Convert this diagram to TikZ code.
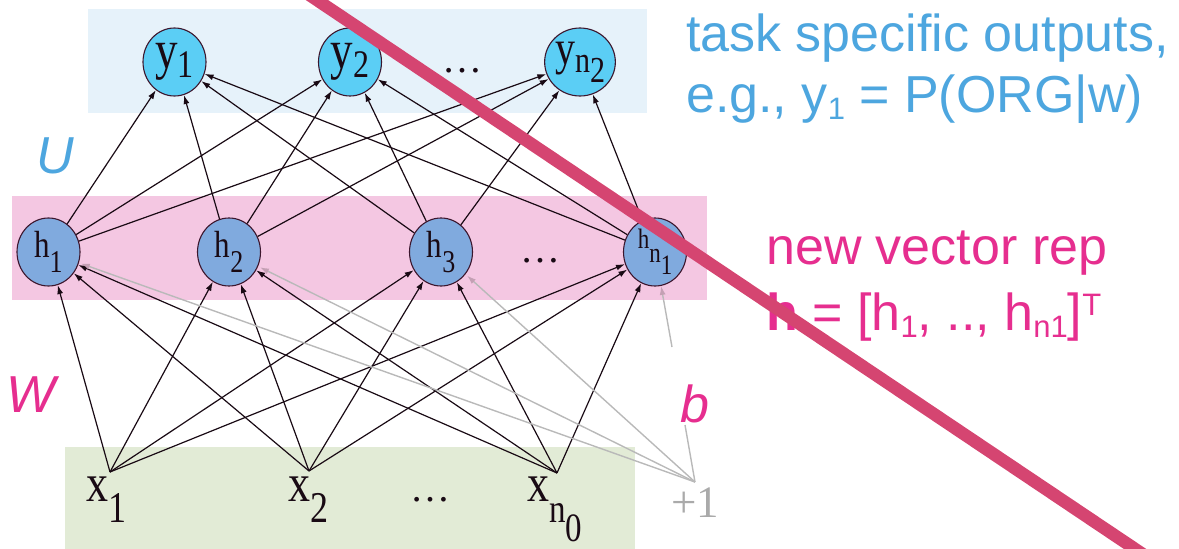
\documentclass[tikz,border=0pt]{standalone}
\usepackage{fontspec}
\setmainfont{Liberation Serif}
\newfontfamily\arialf{Liberation Sans}
\usetikzlibrary{arrows.meta,shapes.geometric}
\definecolor{bluebg}{RGB}{230,242,250}
\definecolor{pinkbg}{RGB}{244,199,226}
\definecolor{greenbg}{RGB}{226,235,214}
\definecolor{ycol}{RGB}{91,206,245}
\definecolor{hcol}{RGB}{128,170,222}
\definecolor{edgecol}{RGB}{60,22,45}
\definecolor{linecol}{RGB}{25,10,20}
\definecolor{biasgray}{RGB}{185,185,185}
\definecolor{biashead}{RGB}{196,160,180}
\definecolor{bluetxt}{RGB}{77,166,223}
\definecolor{magtxt}{RGB}{230,46,143}
\definecolor{redband}{RGB}{213,69,113}
\definecolor{plustxt}{RGB}{170,170,170}
\newcommand\lsub[3]{\raisebox{-#1}{\fontsize{#2}{#2}\selectfont #3}}
\newcommand\usup[3]{\raisebox{#1}{\fontsize{#2}{#2}\selectfont #3}}
\newcommand\tall[2]{\scalebox{1}[1.22]{\fontsize{#1}{#1}\selectfont #2}}
\newcommand\sansbig{\arialf\fontsize{52}{60}\selectfont}
\newcommand\sanssub[1]{\lsub{7pt}{31}{#1}}
\begin{document}
\begin{tikzpicture}[x=1pt,y=-1pt,
  neuron/.style={ellipse, draw=edgecol, line width=1.1pt, minimum width=63pt, minimum height=68pt, inner sep=0pt, text=linecol},
  yneuron/.style={neuron, fill=ycol},
  hneuron/.style={neuron, fill=hcol},
  conn/.style={draw=linecol, line width=1.2pt, -{Latex[length=9pt,width=6pt]}},
  biasline/.style={draw=biasgray, line width=1.4pt},
  bias/.style={biasline, -{Latex[length=9pt,width=6pt,color=biashead]}},
  xlabel/.style={anchor=base west, inner sep=0pt, text=linecol},
  dotlabel/.style={anchor=base, inner sep=0pt, font=\fontsize{40}{40}\selectfont, text=linecol},
  sanslabel/.style={anchor=base west, inner sep=0pt, font=\sansbig},
  band/.style={draw=redband, line width=12.5pt}
]
\useasboundingbox (0,0) rectangle (1179,549);
% background bands
\fill[bluebg] (88,9) rectangle (647,113);
\fill[pinkbg] (12,196) rectangle (707,300);
\fill[greenbg] (65,447) rectangle (635,549);

% neurons
\node[yneuron] (y1) at (174.5,62) {\tall{45}{y\lsub{7pt}{32}{1}}};
\node[yneuron] (y2) at (350,62) {\tall{45}{y\lsub{7pt}{32}{2}}};
\node[yneuron] (yn) at (580,62) {\tall{40}{y\lsub{7pt}{30}{n\lsub{8pt}{30}{2}}}};
\node[dotlabel] (ydots) at (462,72) {…};

\node[hneuron] (h1) at (48.5,252) {\tall{31}{h\lsub{12pt}{26}{1}}};
\node[hneuron] (h2) at (229,252) {\tall{31}{h\lsub{12pt}{26}{2}}};
\node[hneuron] (h3) at (441,252) {\tall{31}{h\lsub{12pt}{26}{3}}};
\node[hneuron] (hn) at (655,252) {\tall{23}{h\lsub{11pt}{23}{n\lsub{10pt}{23}{1}}}};
\node[dotlabel] (hdots) at (540,262) {…};

% inputs
\node[xlabel] (x1) at (86,501) {\tall{44}{x\lsub{18pt}{36}{1}}};
\node[xlabel] (x2) at (288,501) {\tall{44}{x\lsub{18pt}{36}{2}}};
\node[xlabel] (xn) at (527,501) {\tall{44}{x\lsub{18pt}{33}{n\lsub{15pt}{33}{0}}}};
\node[dotlabel] (xdots) at (430,501) {…};
\node[xlabel, text=plustxt] (plus) at (671,517) {\fontsize{45}{45}\selectfont +1};

\coordinate (xa1) at (110,472);
\coordinate (xa2) at (309,471);
\coordinate (xa3) at (557,473);
\coordinate (pa) at (695,482);
\coordinate (bb) at (685,425);
\coordinate (bt) at (672,347);

% connectors h -> y
\foreach \h in {h1,h2,h3,hn}
  \foreach \y in {y1,y2,yn}
    \draw[conn] (\h) -- (\y);
% connectors x -> h
\foreach \x in {xa1,xa2,xa3}
  \foreach \h in {h1,h2,h3,hn}
    \draw[conn] (\x) -- (\h);
% bias connectors
\foreach \h in {h1,h2,h3}
  \draw[bias, shorten >=2pt] (pa) -- (\h);
\draw[biasline] (pa) -- (bb);
\draw[bias] (bt) -- (hn);

% labels
\node[sanslabel, text=bluetxt] (t1) at (686,51) {task specific outputs,};
\node[sanslabel, text=bluetxt] (t2) at (686,112) {e.g., y\sanssub{1} = P(ORG|w)};
\node[sanslabel, text=bluetxt, font=\sansbig\itshape] (U) at (36,173) {U};
\node[sanslabel, text=magtxt, font=\sansbig\itshape] (W) at (6,412) {W};
\node[sanslabel, text=magtxt, font=\sansbig\itshape] (b) at (680,422) {b};
\node[sanslabel, text=magtxt] (n1) at (766,264) {new vector rep};
\node[sanslabel, text=magtxt] (n2) at (766,330) {\textbf{h} = [h\sanssub{1}, .., h\sanssub{n1}]\usup{15pt}{31}{T}};

% red strike-through band
\begin{scope}
\clip (0,0) rectangle (1179,549);
\draw[band] (302,-10) -- (1150,559);
\end{scope}
\end{tikzpicture}
\end{document}
